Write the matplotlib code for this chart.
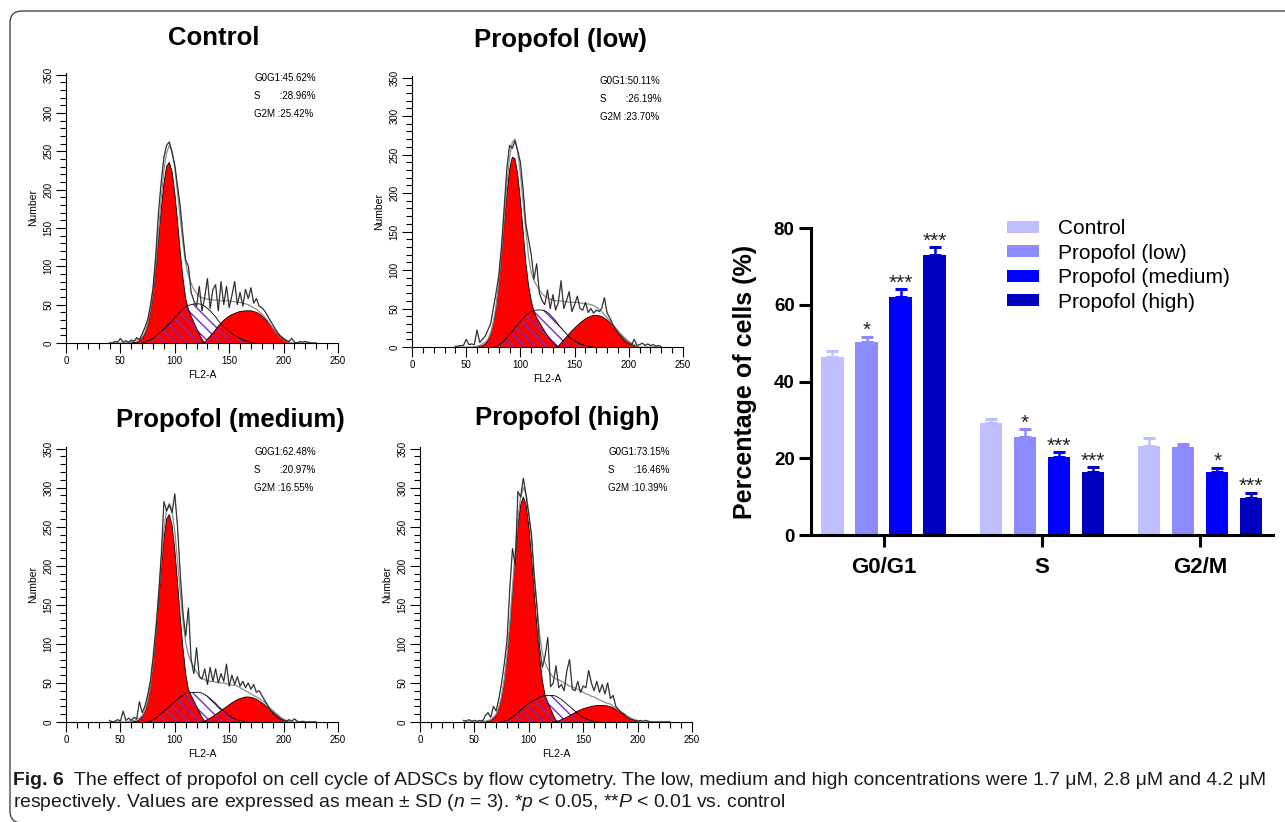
import numpy as np
import matplotlib
matplotlib.use("Agg")
import matplotlib.pyplot as plt
from matplotlib import font_manager
from matplotlib.patches import FancyBboxPatch

# ---------------------------------------------------------------- data
# flow-cytometry histograms, channel grid FL2-A 40 ... 230 (step 2.5)
CHANNEL = np.arange(40, 230.01, 2.5)

CTRL_RAW = [0, 0, 2, 1, 6, 1, 3, 1, 4, 2, 7, 4, 12, 20, 30, 48,
            72, 115, 170, 210, 242, 258, 262, 248, 232, 205, 178, 140, 108, 100, 66, 55,
            48, 74, 42, 60, 84, 45, 70, 76, 42, 80, 50, 74, 46, 62, 80, 50,
            66, 48, 70, 58, 72, 52, 58, 48, 46, 42, 36, 30, 24, 18, 12, 8,
            5, 3, 2, 6, 1, 0, 2, 1, 2, 1, 0, 0, 0]
CTRL_FIT = [0, 0, 0, 0, 0, 0, 1, 1, 2, 3, 4, 5, 8, 14, 25, 43,
            68, 104, 146, 188, 226, 248, 258, 250, 229, 196, 162, 130, 104, 88, 78, 70,
            65, 61, 59, 58, 57, 57, 56, 56, 56, 55, 55, 55, 55, 54, 54, 53,
            53, 52, 51, 50, 48, 46, 44, 41, 38, 34, 30, 25, 20, 15, 11, 7,
            4, 2, 1, 0, 0, 0, 0, 0, 0, 0, 0, 0, 0]
CTRL_G1 = [0] * 8 + [0.2, 0.4, 1.1, 2.6, 5.8, 11.8, 22.4, 39.6,
                     64.4, 97, 135.2, 174.4, 208.2, 230.3, 235.5, 223.3,
                     195.9, 159.1, 119.4, 85, 58, 44, 35, 27,
                     19, 12, 5] + [0] * 42
CTRL_S = [0] * 13 + [1, 3, 4,
                     6, 9, 12, 15, 18, 22, 25, 29, 33, 37, 41, 44, 47, 49, 50, 51,
                     51, 51, 50, 48, 45, 42, 38, 34, 29, 25, 21, 18, 15, 12, 10, 8,
                     6, 4, 3, 2, 1] + [0] * 24
CTRL_G2 = [0] * 35 + [1, 5, 9, 13, 17.5, 22, 26, 29.5, 32.5, 35, 37, 38.5, 40,
                      41, 41.5, 42, 42, 42, 41, 40, 38, 35.5, 32, 28, 24, 20, 16, 12.5, 9,
                      6, 3.5, 1.5] + [0] * 10

LOW_RAW = [1, 1, 2, 2, 10, 3, 4, 3, 22, 6, 10, 14, 22, 30, 50, 70,
           92, 130, 180, 232, 262, 258, 268, 255, 240, 205, 160, 140, 120, 88, 108, 70,
           60, 55, 74, 50, 68, 48, 58, 86, 50, 60, 72, 46, 55, 66, 50, 48,
           58, 45, 50, 44, 48, 46, 50, 64, 44, 38, 30, 24, 18, 14, 9, 6,
           4, 3, 10, 2, 3, 5, 2, 4, 2, 3, 1, 2, 0]
LOW_FIT = [0, 0, 0, 0, 0, 0, 0, 0.5, 1, 2, 4, 6, 10, 18, 32, 53,
           84, 122, 167, 211, 246, 266, 270, 254, 224, 188, 151, 118, 96, 86, 80, 74,
           69, 66, 64, 62, 61, 60, 60, 60, 59, 59, 58, 58, 58, 58, 57, 57,
           56, 56, 55, 54, 52, 49, 46, 42, 38, 34, 29, 25, 21, 17, 13, 10,
           7, 5, 3, 1, 0, 0, 0, 0, 0, 0, 0, 0, 0]
LOW_G1 = [0] * 8 + [0.2, 0.7, 1.7, 3.8, 8.2, 16.3, 30, 51,
                    80.5, 117, 159, 199, 230, 246.5, 244.5, 224.7,
                    191, 150.5, 110, 80, 60, 46, 38, 32,
                    26, 20, 15, 10, 6, 3] + [0] * 39
LOW_S = [0] * 15 + [1, 3, 5, 8, 12, 16, 20, 25, 29, 33, 37, 41, 44, 46, 47.5, 48, 48,
                    48, 47, 45, 42, 38, 34, 29, 25, 21, 17, 13, 10, 8, 6, 4, 3,
                    2, 1, 0.5] + [0] * 26
LOW_G2 = [0] * 38 + [1, 5, 9, 13, 17, 21, 24.5, 28, 31, 34,
                     36.5, 38.5, 40, 41, 41, 40.5, 39.5, 37.5, 35, 32, 28.5, 25, 21, 17, 13.5, 10,
                     7, 4.5, 2] + [0] * 10

MED_RAW = [2, 0, 1, 3, 1, 14, 2, 5, 2, 6, 4, 26, 12, 20, 34, 52,
           82, 118, 160, 212, 282, 270, 278, 268, 292, 250, 190, 140, 110, 146, 80, 62,
           95, 58, 55, 68, 48, 70, 52, 68, 50, 62, 52, 74, 46, 60, 48, 58,
           46, 52, 44, 50, 42, 48, 38, 40, 34, 28, 22, 16, 11, 8, 5, 3,
           2, 1, 3, 1, 4, 1, 0, 1, 0, 0, 0, 0, 0]
MED_FIT = [0, 0, 0, 0, 0, 0, 0, 1, 1, 2, 3, 5, 8, 15, 27, 46,
           76, 114, 160, 206, 246, 272, 280, 270, 244, 206, 166, 130, 102, 86, 77, 70,
           64, 59, 56, 54, 53, 52, 52, 51, 51, 50, 50, 49, 48, 47, 47, 46,
           44, 42, 40, 38, 36, 34, 32, 30, 28, 25, 22, 18, 15, 12, 9, 6,
           4, 2, 1, 0, 0, 0, 0, 0, 0, 0, 0, 0, 0]
MED_G1 = [0] * 8 + [0.2, 0.5, 1.2, 2.9, 6.6, 13.3, 25.3, 44.7,
                    72.6, 109.3, 152.4, 196.6, 234.6, 259.6, 265.5, 251.6,
                    220.8, 179.3, 134.6, 95, 62, 42, 34, 27,
                    20, 13, 6, 1] + [0] * 41
MED_S = [0] * 15 + [1, 3, 5, 8, 11, 14, 17, 20, 23, 26, 29, 32, 34, 36, 37, 38, 38,
                    38, 38, 37, 35, 33, 30, 27, 24, 20, 17, 14, 11, 8, 6, 4, 3,
                    2, 1] + [0] * 27
MED_G2 = [0] * 35 + [1, 3, 5, 7, 9.5, 12, 14.5, 17, 19.5, 22, 24.5, 26.5, 28.5,
                     30, 31, 32, 32, 31.5, 30.5, 29, 27, 24.5, 22, 19, 16, 13, 10, 7.5, 5,
                     3, 1.5] + [0] * 11

HIGH_RAW = [2, 1, 3, 1, 2, 1, 2, 1, 8, 12, 6, 20, 14, 30, 50, 75,
            105, 170, 222, 200, 295, 288, 312, 290, 265, 240, 185, 148, 95, 70, 85, 108,
            45, 50, 72, 44, 48, 40, 66, 80, 42, 40, 52, 38, 46, 44, 66, 50,
            40, 52, 38, 48, 36, 50, 30, 34, 20, 16, 12, 10, 6, 4, 3, 2,
            1, 2, 1, 2, 1, 0, 0, 0, 0, 0, 0, 0, 0]
HIGH_FIT = [0, 0, 0, 0, 0, 0, 0, 1, 1, 2, 3, 6, 10, 19, 33, 55,
            86, 126, 172, 218, 260, 288, 300, 292, 268, 232, 190, 148, 112, 88, 76, 68,
            62, 57, 55, 54, 52, 50, 48, 46, 45, 43, 42, 40, 38, 36, 35, 33,
            32, 30, 28, 27, 25, 24, 23, 20, 18, 15, 13, 11, 8, 6, 4, 3,
            2, 1, 0, 0, 0, 0, 0, 0, 0, 0, 0, 0, 0]
HIGH_G1 = [0] * 8 + [0.3, 0.8, 2, 4.4, 9, 17.5, 31.4, 52.8,
                     82.8, 121, 165.5, 210.9, 250.8, 278.2, 288, 278.2,
                     250.8, 210.9, 165.5, 121, 82.8, 52.8, 34, 25,
                     17, 9, 2] + [0] * 42
HIGH_S = [0] * 15 + [1, 2, 4, 6, 9, 12, 15, 18, 21, 24, 26, 28, 30, 32, 33, 34, 34,
                     34, 34, 33, 31, 29, 26, 23, 20, 17, 14, 11, 8, 6, 4, 3, 2,
                     1] + [0] * 28
HIGH_G2 = [0] * 34 + [0.5, 1.5, 3, 4.5, 6, 8, 10, 12, 14, 15.5, 17, 18, 19, 20,
                      20.5, 21, 21, 21, 21, 20.5, 19.5, 18, 16, 14, 12, 10, 8, 6, 4, 2.5,
                      1] + [0] * 12

PANEL_TITLES = ['Control', 'Propofol (low)', 'Propofol (medium)', 'Propofol (high)']
PHASE_NAMES = ['G0G1', 'S', 'G2M']
CTRL_STATS = ['45.62', '28.96', '25.42']
LOW_STATS = ['50.11', '26.19', '23.70']
MED_STATS = ['62.48', '20.97', '16.55']
HIGH_STATS = ['73.15', '16.46', '10.39']

# bar chart: percentage of cells
PHASES = ['G0/G1', 'S', 'G2/M']
GROUPS = ['Control', 'Propofol (low)', 'Propofol (medium)', 'Propofol (high)']
CTRL_MEAN = [46.5, 29.3, 23.2]
CTRL_SD = [1.5, 0.8, 2.2]
LOW_MEAN = [50.2, 25.6, 23.0]
LOW_SD = [1.5, 2.0, 0.8]
MED_MEAN = [62.1, 20.3, 16.3]
MED_SD = [1.9, 1.2, 1.2]
HIGH_MEAN = [73.0, 16.3, 9.7]
HIGH_SD = [2.0, 1.3, 1.3]
CTRL_SIG = ['', '', '']
LOW_SIG = ['*', '*', '']
MED_SIG = ['***', '***', '*']
HIGH_SIG = ['***', '***', '***']

CAPTION_BOLD = 'Fig. 6'
CAPTION_1 = ('The effect of propofol on cell cycle of ADSCs by flow cytometry. The low, '
             'medium and high concentrations were 1.7\u00a0\u03bcM, 2.8\u00a0\u03bcM and 4.2\u00a0\u03bcM')
CAPTION_2 = (r'respectively. Values are expressed as mean $\pm$ SD ($n$ = 3). '
             r'*$p$ < 0.05, **$P$ < 0.01 vs. control')

# ---------------------------------------------------------------- style
plt.rcParams['font.family'] = ['Liberation Sans', 'DejaVu Sans']
plt.rcParams['hatch.linewidth'] = 1.0
HATCH = '#7030c8'
plt.rcParams['hatch.color'] = HATCH
RED = '#ff0000'
BAR_COLORS = ['#bfbfff', '#8c8cff', '#0000ff', '#0000bf']


def available(name):
    try:
        font_manager.findfont(font_manager.FontProperties(family=name),
                              fallback_to_default=False)
        return True
    except Exception:
        return False


CAP_FONT = next(f for f in ['Liberation Sans Narrow', 'Liberation Sans'] if available(f))
plt.rcParams['mathtext.fontset'] = 'custom'
plt.rcParams['mathtext.rm'] = CAP_FONT
plt.rcParams['mathtext.it'] = CAP_FONT + ':italic'
plt.rcParams['mathtext.bf'] = CAP_FONT + ':bold'

W, H = 1285, 822
fig = plt.figure(figsize=(W / 100, H / 100), dpi=100)


def fx(px):
    return px / W


def fy(py):
    return 1 - py / H


def rect(x0, x1, ytop, ybot):
    return [fx(x0), fy(ybot), (x1 - x0) / W, (ybot - ytop) / H]


def support(v):
    v = np.asarray(v, float)
    on = v > 0
    keep = on | np.r_[on[1:], False] | np.r_[False, on[:-1]]
    return np.where(keep, v, np.nan)


# ---------------------------------------------------------------- histograms
panels = [
    (PANEL_TITLES[0], CTRL_RAW, CTRL_FIT, CTRL_G1, CTRL_S, CTRL_G2, CTRL_STATS,
     (66, 338, 73, 343), (214, 38)),
    (PANEL_TITLES[1], LOW_RAW, LOW_FIT, LOW_G1, LOW_S, LOW_G2, LOW_STATS,
     (412, 683, 76, 347), (560, 40)),
    (PANEL_TITLES[2], MED_RAW, MED_FIT, MED_G1, MED_S, MED_G2, MED_STATS,
     (66, 338, 447, 722), (230, 420)),
    (PANEL_TITLES[3], HIGH_RAW, HIGH_FIT, HIGH_G1, HIGH_S, HIGH_G2, HIGH_STATS,
     (420, 692, 447, 722), (567, 418)),
]

for title, raw, fit, g1, s, g2, stats, box, txy in panels:
    for arr in (raw, fit, g1, s, g2):
        assert len(arr) == len(CHANNEL), (title, len(arr))
    ax = fig.add_axes(rect(*box))
    x = CHANNEL
    g1 = np.asarray(g1, float)
    g2 = np.asarray(g2, float)
    s = np.asarray(s, float)
    ax.fill_between(x, 0, g1, where=g1 > 0, interpolate=True,
                    facecolor=RED, edgecolor='none', linewidth=0, zorder=2)
    ax.fill_between(x, 0, g2, where=g2 > 0, interpolate=True,
                    facecolor=RED, edgecolor='none', linewidth=0, zorder=2)
    ax.fill_between(x, 0, s, facecolor='none', edgecolor=HATCH, hatch='\\\\\\',
                    linewidth=0, zorder=3)
    ax.plot(x, support(g1), color='black', lw=0.6, zorder=4)
    ax.plot(x, support(g2), color='black', lw=0.6, zorder=4)
    ax.plot(x, support(s), color='black', lw=0.6, zorder=4)
    ax.plot(x, fit, color='#8c8c8c', lw=0.9, zorder=5)
    ax.plot(x, raw, color='#555555', lw=1.1, alpha=0.6, zorder=6)
    ax.plot(x, raw, color='#1a1a1a', lw=0.55, zorder=6)

    ax.set_xlim(0, 250)
    ax.set_ylim(0, 352)
    ax.set_xticks(np.arange(0, 251, 50))
    ax.set_xticks(np.arange(0, 251, 10), minor=True)
    ax.set_yticks(np.arange(0, 351, 50))
    ax.set_yticks(np.arange(0, 351, 10), minor=True)
    ax.tick_params(which='major', direction='out', length=7, width=0.8,
                   labelsize=7, pad=2)
    ax.tick_params(which='minor', direction='out', length=4, width=0.8)
    for lbl in ax.get_yticklabels():
        lbl.set_rotation(90)
        lbl.set_va('center')
    for side in ('top', 'right'):
        ax.spines[side].set_visible(False)
    for side in ('left', 'bottom'):
        ax.spines[side].set_linewidth(0.8)
    ax.set_xlabel('FL2-A', fontsize=7.5, labelpad=3)
    ax.set_ylabel('Number', fontsize=7.5, labelpad=4)

    lines = [PHASE_NAMES[0] + ':' + stats[0] + '%',
             PHASE_NAMES[1] + '       :' + stats[1] + '%',
             PHASE_NAMES[2] + ' :' + stats[2] + '%']
    for k, line in enumerate(lines):
        ax.text(173, 345 - 23 * k, line, fontsize=7, va='center', ha='left')

    fig.text(fx(txy[0]), fy(txy[1]), title, ha='center', va='center',
             fontsize=18.5, fontweight='bold')

# ---------------------------------------------------------------- bar chart
axb = fig.add_axes(rect(810.7, 1273, 228, 535))
xg = np.arange(len(PHASES))
means = [CTRL_MEAN, LOW_MEAN, MED_MEAN, HIGH_MEAN]
sds = [CTRL_SD, LOW_SD, MED_SD, HIGH_SD]
sigs = [CTRL_SIG, LOW_SIG, MED_SIG, HIGH_SIG]
step, width = 0.215, 0.142
for i, (name, col) in enumerate(zip(GROUPS, BAR_COLORS)):
    off = (i - 1.5) * step
    m = np.asarray(means[i])
    sd = np.asarray(sds[i])
    axb.bar(xg + off, m, width=width, color=col, label=name, zorder=2)
    axb.errorbar(xg + off, m, yerr=[np.zeros_like(sd), sd], fmt='none', ecolor=col,
                 elinewidth=1.8, capsize=4, capthick=2.2, zorder=3)
    for j, sg in enumerate(sigs[i]):
        if sg:
            axb.annotate(sg, (xg[j] + off, m[j] + sd[j]), xytext=(0, 0.5),
                         textcoords='offset points', ha='center', va='baseline',
                         fontsize=15, color='#222222')

axb.set_xlim(-0.46, 2.46)
axb.set_ylim(0, 80)
axb.set_yticks([0, 20, 40, 60, 80])
axb.set_xticks(xg)
axb.set_xticklabels(PHASES)
for side in ('top', 'right'):
    axb.spines[side].set_visible(False)
for side in ('left', 'bottom'):
    axb.spines[side].set_linewidth(2.2)
axb.tick_params(axis='y', direction='out', length=8.5, width=2.2, labelsize=13.5, pad=3)
axb.tick_params(axis='x', direction='out', length=8.5, width=2.2, labelsize=16, pad=7)
for lbl in axb.get_yticklabels() + axb.get_xticklabels():
    lbl.set_fontweight('bold')
fig.text(fx(745), fy(382), 'Percentage of cells (%)', rotation=90, ha='center',
         va='center', fontsize=18, fontweight='bold')

axb.legend(loc='upper left', bbox_to_anchor=(fx(1006.7), fy(219)),
           bbox_transform=fig.transFigure, frameon=False, fontsize=15,
           handlelength=1.57, handleheight=0.51, handletextpad=0.88,
           labelspacing=0.27, borderpad=0, borderaxespad=0)

# ---------------------------------------------------------------- caption
CAP_COLOR = '#1a1a1a'
renderer = fig.canvas.get_renderer()
fs = 13.0
tb = fig.text(fx(13), fy(785), CAPTION_BOLD, fontsize=fs, fontweight='bold',
              family=CAP_FONT, va='baseline', ha='left', color=CAP_COLOR)
t1 = fig.text(0, fy(785), CAPTION_1, fontsize=fs, family=CAP_FONT,
              va='baseline', ha='left', color=CAP_COLOR)
t2 = fig.text(fx(13), fy(807), CAPTION_2, fontsize=fs, family=CAP_FONT,
              va='baseline', ha='left', color=CAP_COLOR)
wb = tb.get_window_extent(renderer).width
w1 = t1.get_window_extent(renderer).width
gap = 0.55 * fs * 100 / 72
scale = (1258 - 13) / (wb + gap + w1)
fs *= scale
for t in (tb, t1, t2):
    t.set_fontsize(fs)
wb = tb.get_window_extent(renderer).width
gap = 0.55 * fs * 100 / 72
t1.set_x(fx(13 + wb + gap))

# ---------------------------------------------------------------- frame
frame = FancyBboxPatch((10, -1), 1320, 812, boxstyle='round,pad=0,rounding_size=12',
                       transform=None, facecolor='none', edgecolor='#333333',
                       linewidth=0.9)
fig.patches.append(frame)

fig.savefig('out.png', dpi=100)
